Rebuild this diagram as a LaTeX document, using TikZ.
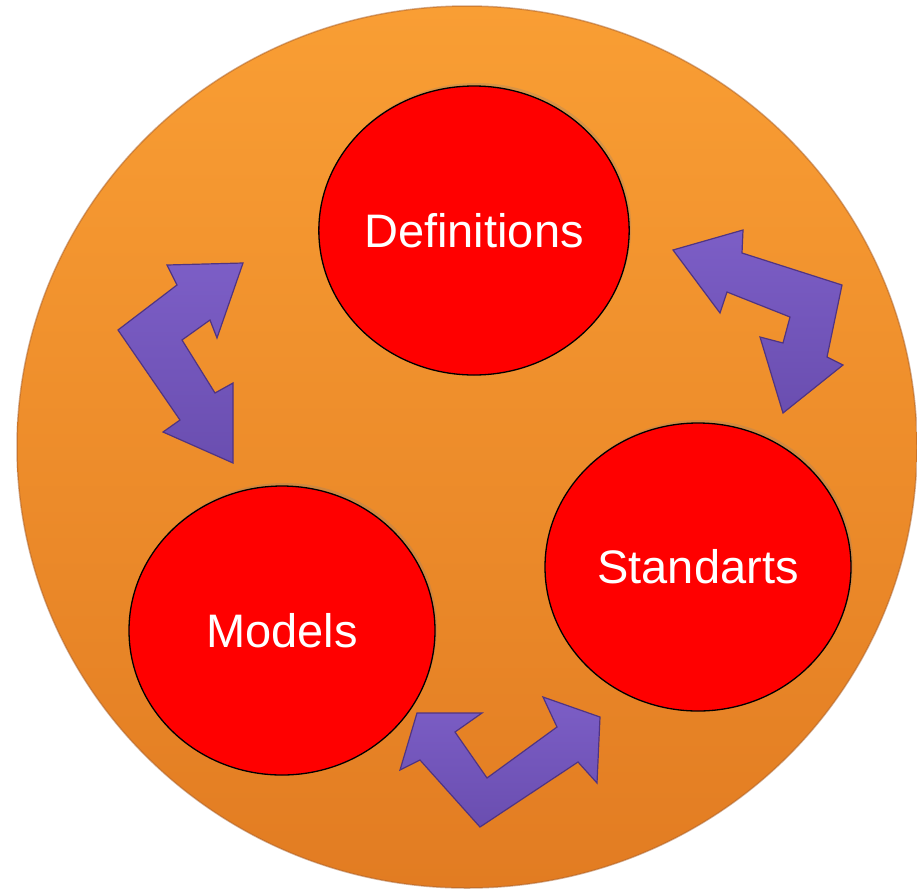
\documentclass[tikz,border=0pt]{standalone}
\usepackage{fontspec}
\setmainfont{Liberation Sans}
\usetikzlibrary{shapes.geometric,shadows}
\definecolor{orangeTop}{RGB}{249,158,52}
\definecolor{orangeBot}{RGB}{226,124,34}
\definecolor{orangeEdge}{RGB}{170,95,40}
\definecolor{arrowFill}{RGB}{106,78,176}
\definecolor{arrowLight}{RGB}{124,94,198}
\definecolor{arrowDark}{RGB}{80,52,130}
\definecolor{redFill}{RGB}{255,0,0}
\tikzset{
  bubble/.style={ellipse, draw=black, line width=1.3pt, fill=redFill, inner sep=0pt,
    text=white, font=\fontsize{47}{56}\selectfont,
    drop shadow={opacity=0.25, shadow xshift=2pt, shadow yshift=3pt}},
  bigarrow/.style={draw=arrowDark, line width=1.2pt, line join=miter,
    top color=arrowLight, bottom color=arrowFill}
}
\begin{document}
\begin{tikzpicture}[x=1pt,y=-1pt]
\useasboundingbox (0,0) rectangle (917,895);
\fill[white] (0,0) rectangle (917,895);
% big orange disc
\shade[top color=orangeTop, bottom color=orangeBot] (467,447) ellipse [x radius=450, y radius=441];
\draw[orangeEdge, line width=1.5pt, opacity=0.5] (467,447) ellipse [x radius=450, y radius=441];
% arrows
\path[bigarrow] (243,263) -- (217,338) -- (210,320) -- (182,340) -- (215,393) -- (233,383)
  -- (233,463) -- (163,432) -- (180,420) -- (118,330) -- (177,285) -- (167,265) -- cycle;
\path[bigarrow] (673,250) -- (743,230) -- (742,253) -- (842,285) -- (827,357) -- (843,365)
  -- (783,413) -- (760,337) -- (783,343) -- (790,317) -- (727,292) -- (720,313) -- cycle;
\path[bigarrow] (417,713) -- (482,713) -- (455,732) -- (487,778) -- (557,727) -- (543,697)
  -- (600,717) -- (597,783) -- (578,762) -- (480,827) -- (420,760) -- (400,770) -- cycle;
% red bubbles
\node[bubble, minimum width=305pt, minimum height=289pt] (def) at (474,230.5) {Definitions};
\node[bubble, minimum width=306pt, minimum height=289pt] (mod) at (282,630.5) {Models};
\node[bubble, minimum width=306pt, minimum height=288pt] (std) at (698,567) {Standarts};
\end{tikzpicture}
\end{document}
